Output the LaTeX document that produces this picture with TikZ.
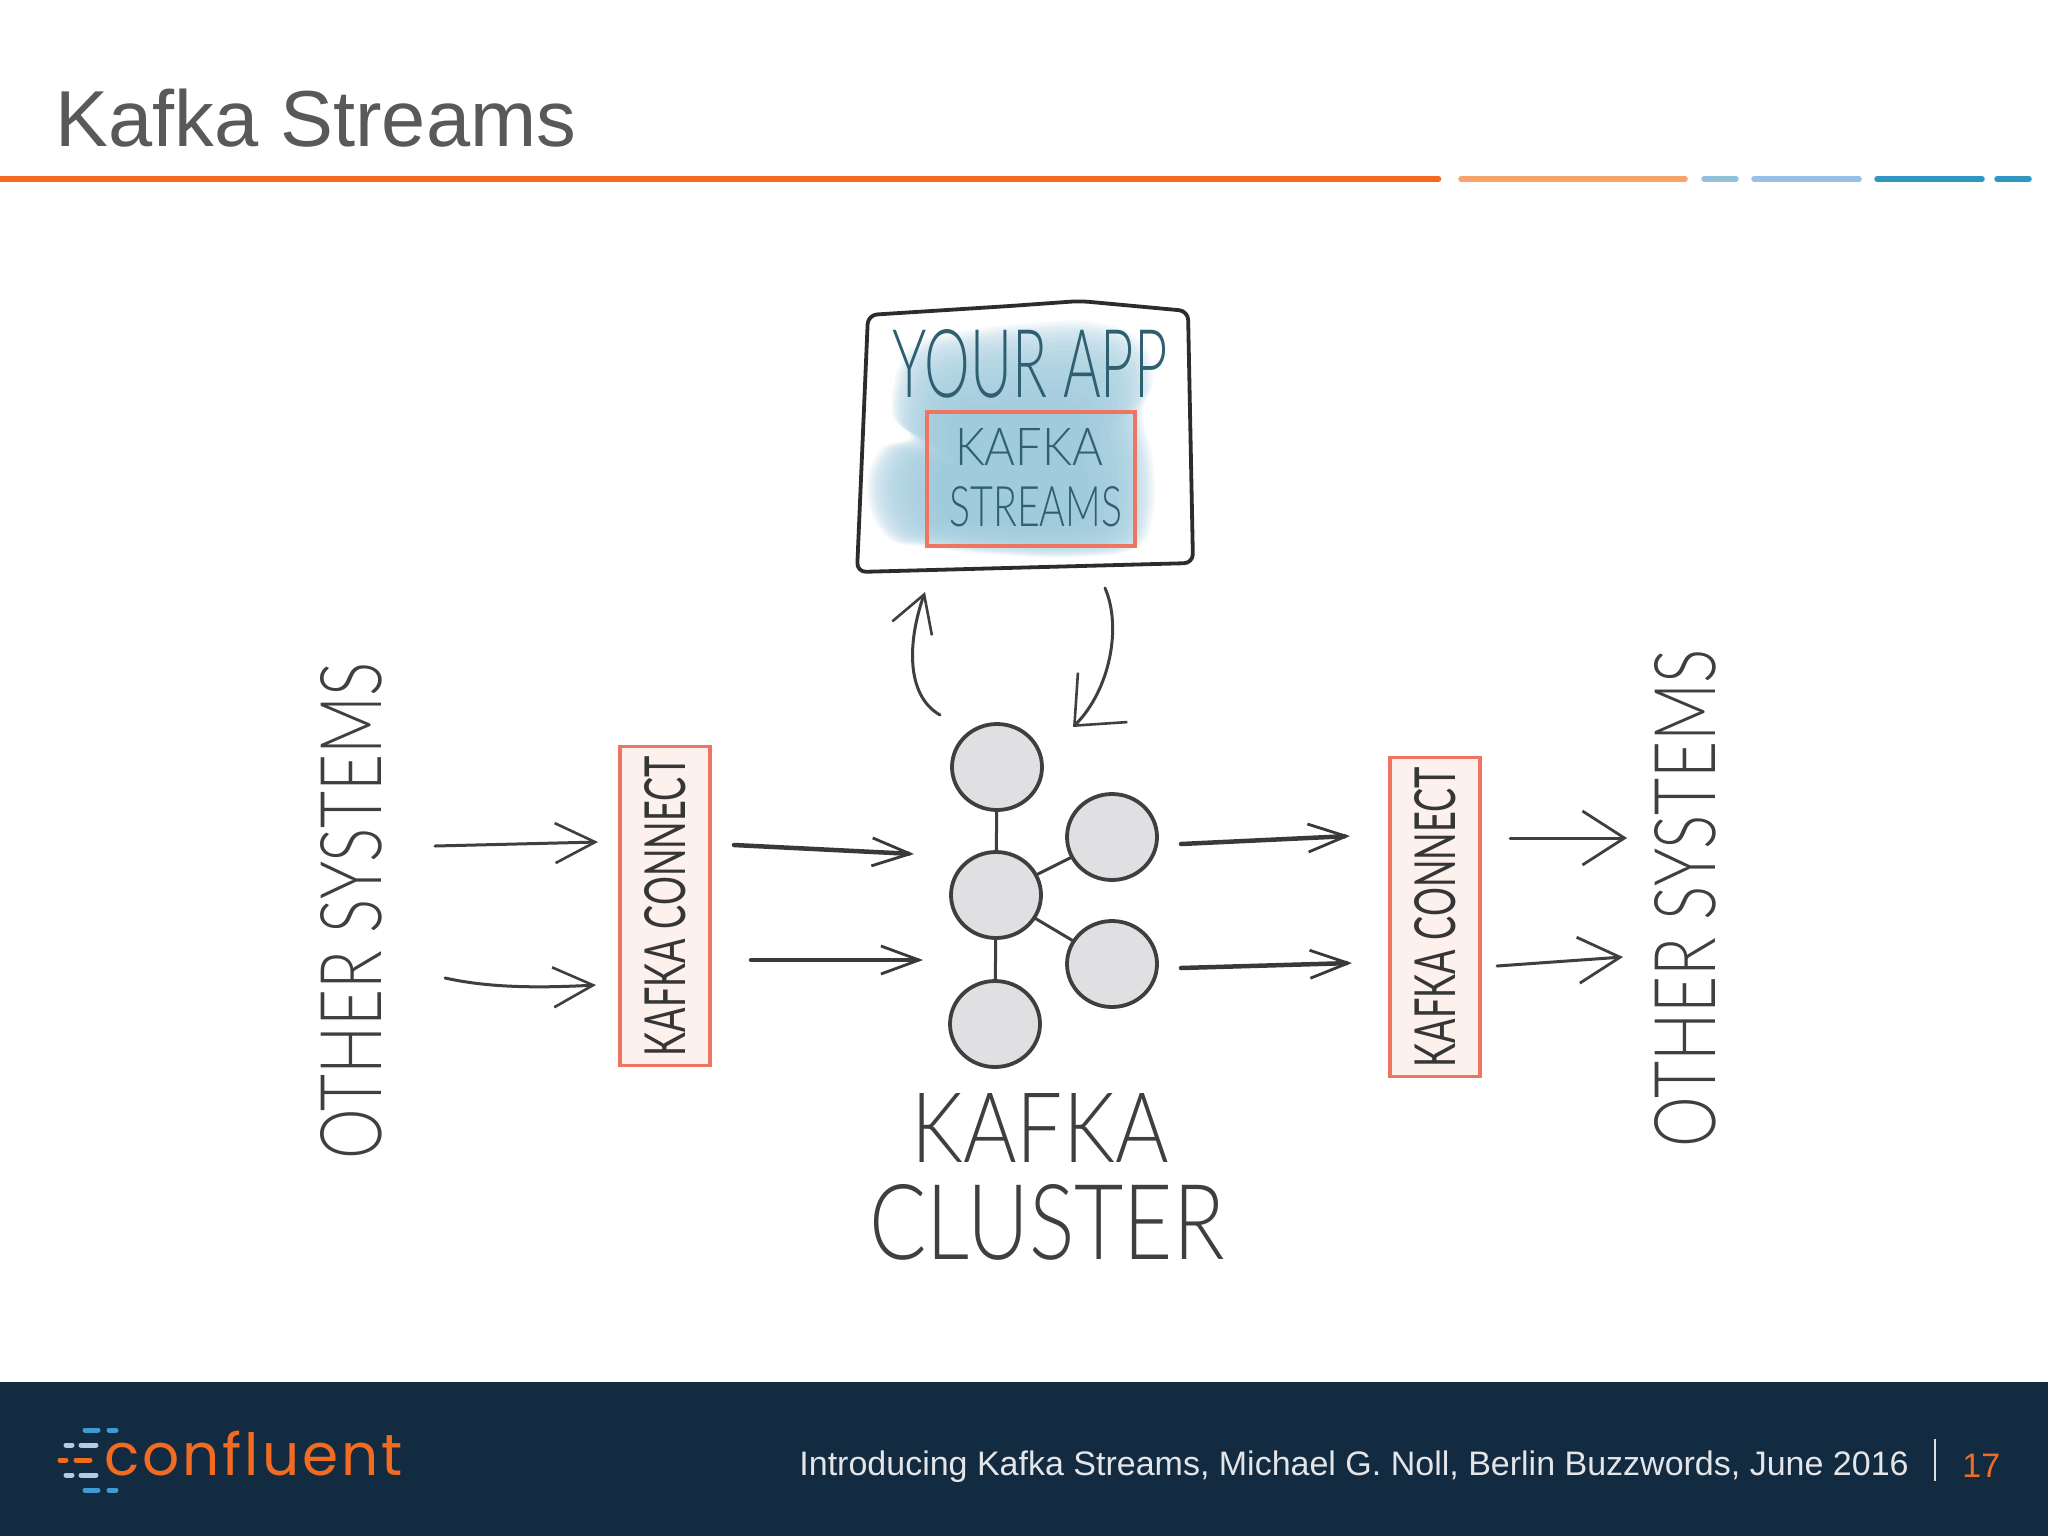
\documentclass[tikz,border=0pt]{standalone}
\usepackage{fontspec}
\usepackage{graphicx}
\usetikzlibrary{arrows.meta,shapes.geometric}
\setmainfont{Liberation Sans}
\newfontfamily\handfont{Lato Light}
\newfontfamily\handmed{Lato}
\newfontfamily\logofont{Poppins}[LetterSpace=5]
\newlength\pxu \setlength\pxu{0.5pt}
\newcommand{\fitt}[3]{\resizebox{#1\pxu}{#2\pxu}{\handfont #3}}
\newcommand{\fitm}[3]{\resizebox{#1\pxu}{#2\pxu}{\handmed #3}}
\definecolor{footbg}{HTML}{132B40}
\definecolor{orng}{HTML}{F26B21}
\definecolor{lorng}{HTML}{F7A36A}
\definecolor{lblue}{HTML}{94C1DA}
\definecolor{lblue2}{HTML}{98C0E4}
\definecolor{dblue}{HTML}{2F97C1}
\definecolor{titlec}{HTML}{58595B}
\definecolor{ink}{HTML}{3F3F3F}
\definecolor{teal}{HTML}{2F6072}
\definecolor{redb}{HTML}{EE7562}
\definecolor{pinkf}{HTML}{FDF1EE}
\definecolor{washc}{HTML}{8FC4D9}
\definecolor{nodef}{HTML}{E0E0E2}
\definecolor{logolt}{HTML}{B4CBE6}
\definecolor{logobl}{HTML}{3F9BD0}
\tikzset{
  seg/.style={line width=5.5\pxu,line cap=round},
  logobar/.style={line width=5\pxu,line cap=round},
  hand/.style={inner sep=0pt,outer sep=0pt,text=ink},
  app/.style={inner sep=0pt,outer sep=0pt,text=teal},
  kbox/.style={draw=redb,fill=pinkf,line width=3.5\pxu,inner sep=0pt,text=ink!85!black},
  broker/.style={ellipse,draw=ink,fill=nodef,line width=3.8\pxu,minimum width=90\pxu,minimum height=86\pxu,inner sep=0pt,outer sep=1\pxu},
  link/.style={draw=ink,line width=3\pxu},
  sketch/.style={draw=ink,line width=3\pxu,line cap=round,-{Straight Barb[length=20pt,width=20pt,line width=1.3pt]}},
  heavy/.style={draw=ink!90!black,line width=4.5\pxu,line cap=round,-{Straight Barb[length=19pt,width=14pt,line width=1.4pt]}},
  curved/.style={draw=ink,line width=3\pxu,line cap=round},
}
\begin{document}
\begin{tikzpicture}[x=0.5pt,y=-0.5pt]
\useasboundingbox (0,0) rectangle (2048,1536);
\fill[white] (0,0) rectangle (2048,1536);
% title
\node[anchor=base west,inner sep=0pt,text=titlec] (title) at (55,146) {\fontsize{39.7}{48}\selectfont Kafka Streams};
\draw[seg,orng,line cap=butt] (0,179) -- (1438,179);
\draw[seg,orng] (1438,179) -- (1438.5,179);
\draw[seg,lorng] (1461,179) -- (1685,179);
\draw[seg,lblue] (1704,179) -- (1736,179);
\draw[seg,lblue2] (1754,179) -- (1859,179);
\draw[seg,dblue] (1877,179) -- (1982,179);
\draw[seg,dblue] (1997,179) -- (2029,179);
% watercolour wash
\foreach \s in {1.00,0.985,0.97,0.955,0.94,0.92,0.90,0.875,0.85,0.82,0.79,0.75,0.71,0.66,0.60,0.54}{
  \begin{scope}[shift={(1010,490)},scale=\s,shift={(-1010,-490)}]
  \fill[washc,opacity=0.085] plot[smooth cycle,tension=0.7] coordinates {
    (900,363) (923,340) (970,330) (1033,323) (1093,322) (1140,340) (1153,380)
    (1143,413) (1153,463) (1153,513) (1137,547) (1080,557) (1003,555) (927,547)
    (887,537) (867,493) (880,450) (910,437) (892,413)};
  \end{scope}
}
% app box
\draw[draw=ink!70!black,line width=3.8\pxu,line join=round,rounded corners=9\pxu]
  (868,315) -- (1010,306) -- (1080,301) -- (1188,311) -- (1193,563) -- (857,572) -- cycle;
\node[draw=redb,line width=3.6\pxu,minimum width=208\pxu,minimum height=134\pxu,inner sep=0pt,fill=washc,fill opacity=0.2] (streamsbox) at (1031,479) {};
\node[app] (yourapp) at (1030,364) {\fitt{275}{68}{YOUR APP}};
\node[app] (kafkat) at (1029,447) {\fitt{148}{37}{KAFKA}};
\node[app] (streamst) at (1036,507) {\fitt{173}{40}{STREAMS}};
% brokers
\node[broker] (b1) at (997,767) {};
\node[broker] (b2) at (996,895) {};
\node[broker] (b3) at (1112,837) {};
\node[broker] (b4) at (1112,964) {};
\node[broker] (b5) at (995,1024) {};
\draw[link] (b1) -- (b2);
\draw[link] (b2) -- (b3);
\draw[link] (b2) -- (b4);
\draw[link] (b2) -- (b5);
% coordinates
\coordinate (up0) at (940,715);
\coordinate (up1) at (925,592);
\coordinate (dn0) at (1105,588);
\coordinate (dn1) at (1073,727);
\coordinate (l1a) at (435,846); \coordinate (l1b) at (598,842);
\coordinate (l2a) at (445,978); \coordinate (l2b) at (596,985);
\coordinate (m1a) at (734,845); \coordinate (m1b) at (914,854);
\coordinate (m2a) at (751,960); \coordinate (m2b) at (923,960);
\coordinate (r1a) at (1181,844); \coordinate (r1b) at (1350,836);
\coordinate (r2a) at (1181,968); \coordinate (r2b) at (1352,963);
\coordinate (s1a) at (1510,838); \coordinate (s1b) at (1627,838);
\coordinate (s2a) at (1497,966); \coordinate (s2b) at (1623,957);
% curved arrows
\draw[curved,-{Straight Barb[length=18pt,width=21pt,line width=1.3pt]}] (up0) .. controls (905,695) and (908,640) .. (up1);
\draw[curved,-{Straight Barb[length=20pt,width=35pt,line width=1.3pt]}] (dn0) .. controls (1122,627) and (1110,690) .. (dn1);
% side labels
\node[hand,rotate=90] (othl) at (351,911) {\fitt{497}{61}{OTHER SYSTEMS}};
\node[hand,rotate=90] (othr) at (1685,898) {\fitt{498}{61}{OTHER SYSTEMS}};
\node[kbox,rotate=90,minimum width=319\pxu,minimum height=90\pxu] (kcl) at (665,906) {\fitm{300}{41}{KAFKA CONNECT}};
\node[kbox,rotate=90,minimum width=319\pxu,minimum height=90\pxu] (kcr) at (1435,917) {\fitm{300}{41}{KAFKA CONNECT}};
% straight arrows
\draw[sketch] (l1a) -- (l1b);
\draw[sketch] (l2a) .. controls (490,988) and (540,988) .. (l2b);
\draw[heavy] (m1a) -- (m1b);
\draw[heavy] (m2a) -- (m2b);
\draw[heavy] (r1a) -- (r1b);
\draw[heavy] (r2a) -- (r2b);
\draw[sketch,-{Straight Barb[length=21pt,width=27pt,line width=1.4pt]}] (s1a) -- (s1b);
\draw[sketch,-{Straight Barb[length=21pt,width=23pt,line width=1.4pt]}] (s2a) -- (s2b);
\node[hand] (clk) at (1040,1128) {\fitt{257}{69}{KAFKA}};
\node[hand] (cls) at (1047,1222) {\fitt{355}{75}{CLUSTER}};
% footer
\fill[footbg] (0,1382) rectangle (2048,1536);
\foreach \y in {1430,1490}{
  \draw[logobar,logobl] (85,\y) -- (98,\y);
  \draw[logobar,logobl] (109,\y) -- (116,\y);
}
\foreach \y in {1445,1475}{
  \draw[logobar,logolt] (66,\y) -- (72,\y);
  \draw[logobar,logolt] (81,\y) -- (96,\y);
}
\draw[logobar,orng] (60,1460) -- (66,1460);
\draw[logobar,orng] (76,1460) -- (90,1460);
\node[anchor=base west,inner sep=0pt,text=orng] (logo) at (104,1475) {\resizebox{298\pxu}{!}{\fontsize{27}{30}\logofont confluent}};
\node[anchor=base west,inner sep=0pt,text=white!88!footbg] (foot) at (799,1475) {\fontsize{17}{21}\selectfont Introducing Kafka Streams, Michael G. Noll, Berlin Buzzwords, June 2016};
\draw[white!85!footbg,line width=2\pxu] (1935,1439) -- (1935,1481);
\node[anchor=base west,inner sep=0pt,text=orng] (pg) at (1962,1477) {\fontsize{17}{21}\selectfont 17};
\end{tikzpicture}
\end{document}
